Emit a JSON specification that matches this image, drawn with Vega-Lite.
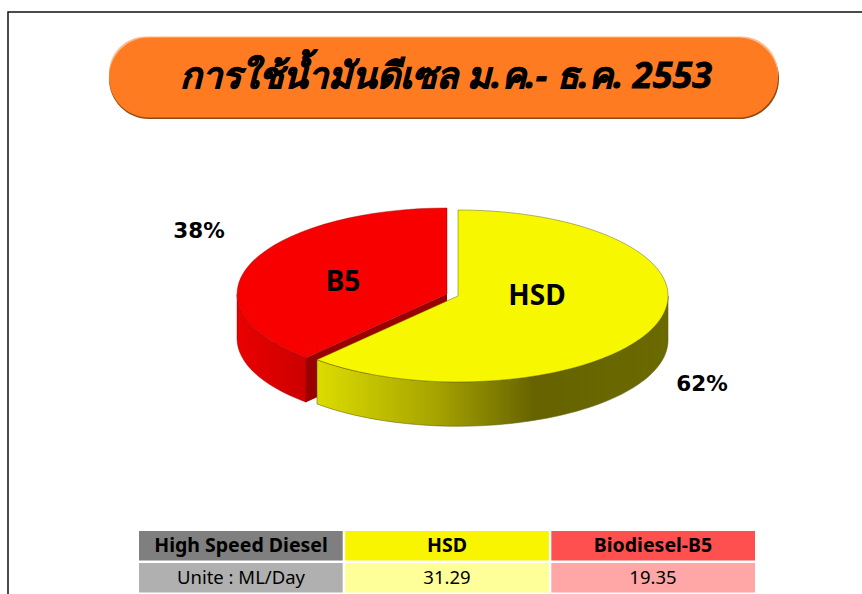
{
"$schema":"https://vega.github.io/schema/vega-lite/v6.json",
"width":862,"height":594,"padding":0,"autosize":{"type":"none"},"background":"white",
"config":{"view":{"stroke":null}},
"datasets":{
"slices":[{"fuel":"HSD","share":0.62},{"fuel":"B5","share":0.38}],
"frame":[{"part":"slide"}],
"heading":[{"heading":"การใช้น้ำมันดีเซล ม.ค.- ธ.ค. 2553"}],
"table":[
{"col":"name","row":"head","label":"High Speed Diesel","bold":true},
{"col":"hsd","row":"head","label":"HSD","bold":true},
{"col":"b5","row":"head","label":"Biodiesel-B5","bold":true},
{"col":"name","row":"unit","label":"Unite : ML/Day","bold":false},
{"col":"hsd","row":"unit","label":"31.29","bold":false},
{"col":"b5","row":"unit","label":"19.35","bold":false}
]},
"layer":[
{"data":{"name":"frame"},"mark":{"type":"rect","fill":"white","stroke":"#111111","strokeWidth":1.5},
 "encoding":{"x":{"field":"part","type":"nominal","axis":null,"scale":{"range":[8,900],"paddingInner":0,"paddingOuter":0}},
 "y":{"field":"part","type":"nominal","axis":null,"scale":{"range":[12,640],"paddingInner":0,"paddingOuter":0}}}},
{"data":{"name":"heading"},"mark":{"type":"rect","fill":"#8f4a14","cornerRadius":40},
 "encoding":{"x":{"field":"heading","type":"nominal","axis":null,"scale":{"range":[109,779],"paddingInner":0,"paddingOuter":0}},
 "y":{"field":"heading","type":"nominal","axis":null,"scale":{"range":[38,119],"paddingInner":0,"paddingOuter":0}}}},
{"data":{"name":"heading"},"mark":{"type":"rect","fill":"#ffb98a","cornerRadius":40},
 "encoding":{"x":{"field":"heading","type":"nominal","axis":null,"scale":{"range":[109,778],"paddingInner":0,"paddingOuter":0}},
 "y":{"field":"heading","type":"nominal","axis":null,"scale":{"range":[36.5,110],"paddingInner":0,"paddingOuter":0}}}},
{"data":{"name":"heading"},"mark":{"type":"rect","fill":"#ff7b22","cornerRadius":40},
 "encoding":{"x":{"field":"heading","type":"nominal","axis":null,"scale":{"range":[109,778],"paddingInner":0,"paddingOuter":0}},
 "y":{"field":"heading","type":"nominal","axis":null,"scale":{"range":[37.5,117.5],"paddingInner":0,"paddingOuter":0}}}},
{"data":{"name":"heading"},"mark":{"type":"text","font":"Noto Sans","fontWeight":"bold","fontStyle":"italic","fontSize":36,"color":"black","stroke":"black","strokeWidth":0.8,"align":"center","baseline":"middle"},
 "encoding":{"text":{"field":"heading"},
 "x":{"field":"heading","type":"nominal","axis":null,"scale":{"range":[446,446],"padding":0}},
 "y":{"field":"heading","type":"nominal","axis":null,"scale":{"range":[77,77],"padding":0}}}},
{"data":{"name":"slices"},"transform":[{"filter":"datum.fuel==='B5'"}],
 "mark":{"type":"point","filled":true,"opacity":1,"size":4,"shape":"M-210 0A210 86 0 0 0 -141 63.7L-141 108.2A210 86 0 0 1 -210 44.5Z",
 "fill":{"gradient":"linear","x1":0,"y1":0,"x2":1,"y2":0,"stops":[{"offset":0,"color":"#ea0000"},{"offset":1,"color":"#cc0000"}]},"stroke":"#8a0000","strokeWidth":0.4},
 "encoding":{"x":{"field":"fuel","type":"nominal","axis":null,"scale":{"domain":["B5","HSD"],"range":[447,458],"padding":0}},
 "y":{"field":"fuel","type":"nominal","axis":null,"scale":{"domain":["B5","HSD"],"range":[294,296],"padding":0}}}},
{"data":{"name":"slices"},"transform":[{"filter":"datum.fuel==='B5'"}],
 "mark":{"type":"point","filled":true,"opacity":1,"size":4,"shape":"M0 0L-141 63.7L-141 108.2L0 44.5Z","fill":"#9a0000","stroke":null},
 "encoding":{"x":{"field":"fuel","type":"nominal","axis":null,"scale":{"domain":["B5","HSD"],"range":[447,458],"padding":0}},
 "y":{"field":"fuel","type":"nominal","axis":null,"scale":{"domain":["B5","HSD"],"range":[294,296],"padding":0}}}},
{"data":{"name":"slices"},"transform":[{"filter":"datum.fuel==='B5'"}],
 "mark":{"type":"point","filled":true,"opacity":1,"size":4,"shape":"M0 0L0 -86A210 86 0 0 0 -141 63.7Z","fill":"#f90000","stroke":"#8a0000","strokeWidth":0.4},
 "encoding":{"x":{"field":"fuel","type":"nominal","axis":null,"scale":{"domain":["B5","HSD"],"range":[447,458],"padding":0}},
 "y":{"field":"fuel","type":"nominal","axis":null,"scale":{"domain":["B5","HSD"],"range":[294,296],"padding":0}}}},
{"data":{"name":"slices"},"transform":[{"filter":"datum.fuel==='HSD'"}],
 "mark":{"type":"point","filled":true,"opacity":1,"size":4,"shape":"M210 0A210 86 0 0 1 -141 63.7L-141 108A210 86 0 0 0 210 44Z",
 "fill":{"gradient":"linear","x1":0,"y1":0,"x2":1,"y2":0,"stops":[{"offset":0,"color":"#dcdc00"},{"offset":0.33,"color":"#a8a500"},{"offset":0.62,"color":"#666300"},{"offset":1,"color":"#6a6a00"}]},"stroke":"#55550a","strokeWidth":0.5},
 "encoding":{"x":{"field":"fuel","type":"nominal","axis":null,"scale":{"domain":["B5","HSD"],"range":[447,458],"padding":0}},
 "y":{"field":"fuel","type":"nominal","axis":null,"scale":{"domain":["B5","HSD"],"range":[294,296],"padding":0}}}},
{"data":{"name":"slices"},"transform":[{"filter":"datum.fuel==='HSD'"}],
 "mark":{"type":"point","filled":true,"opacity":1,"size":4,"shape":"M0 0L0 -86A210 86 0 1 1 -141 63.7Z","fill":"#f7f700","stroke":"#66660f","strokeWidth":0.5},
 "encoding":{"x":{"field":"fuel","type":"nominal","axis":null,"scale":{"domain":["B5","HSD"],"range":[447,458],"padding":0}},
 "y":{"field":"fuel","type":"nominal","axis":null,"scale":{"domain":["B5","HSD"],"range":[294,296],"padding":0}}}},
{"data":{"name":"slices"},"mark":{"type":"text","font":"Noto Sans","fontWeight":"bold","fontSize":28,"color":"black","align":"center","baseline":"middle"},
 "encoding":{"text":{"field":"fuel"},
 "x":{"field":"fuel","type":"nominal","axis":null,"scale":{"domain":["B5","HSD"],"range":[343,537],"padding":0}},
 "y":{"field":"fuel","type":"nominal","axis":null,"scale":{"domain":["B5","HSD"],"range":[283,297],"padding":0}}}},
{"data":{"name":"slices"},"mark":{"type":"text","font":"DejaVu Sans","fontWeight":"bold","fontSize":21.5,"color":"black","align":"center","baseline":"middle"},
 "encoding":{"text":{"field":"share","format":".0%"},
 "x":{"field":"fuel","type":"nominal","axis":null,"scale":{"domain":["B5","HSD"],"range":[199,702],"padding":0}},
 "y":{"field":"fuel","type":"nominal","axis":null,"scale":{"domain":["B5","HSD"],"range":[232,385],"padding":0}}}},
{"data":{"name":"table"},"mark":{"type":"rect"},
 "encoding":{"x":{"field":"col","type":"nominal","axis":null,"scale":{"domain":["name","hsd","b5"],"range":[139,755],"paddingInner":0.012,"paddingOuter":0}},
 "y":{"field":"row","type":"nominal","axis":null,"scale":{"domain":["head","unit"],"range":[531,592.5],"paddingInner":0.08,"paddingOuter":0}},
 "fill":{"field":"label","type":"nominal","legend":null,"scale":{"domain":["High Speed Diesel","HSD","Biodiesel-B5","Unite : ML/Day","31.29","19.35"],"range":["#7f7f7f","#f9f400","#ff5050","#b0b0b0","#ffff99","#ffa6a6"]}}}},
{"data":{"name":"table"},"transform":[{"filter":"datum.bold"}],"mark":{"type":"text","font":"Noto Sans","fontWeight":"bold","fontSize":19.5,"color":"black","align":"center","baseline":"middle"},
 "encoding":{"text":{"field":"label"},
 "x":{"field":"col","type":"nominal","axis":null,"scale":{"domain":["name","hsd","b5"],"range":[241,653],"padding":0}},
 "y":{"field":"row","type":"nominal","axis":null,"scale":{"domain":["head","unit"],"range":[546,578],"padding":0}}}},
{"data":{"name":"table"},"transform":[{"filter":"!datum.bold"}],"mark":{"type":"text","font":"Noto Sans","fontSize":18.5,"color":"black","align":"center","baseline":"middle"},
 "encoding":{"text":{"field":"label"},
 "x":{"field":"col","type":"nominal","axis":null,"scale":{"domain":["name","hsd","b5"],"range":[241,653],"padding":0}},
 "y":{"field":"row","type":"nominal","axis":null,"scale":{"domain":["head","unit"],"range":[546,578],"padding":0}}}}
],
"resolve":{"scale":{"x":"independent","y":"independent","fill":"independent"}}
}
